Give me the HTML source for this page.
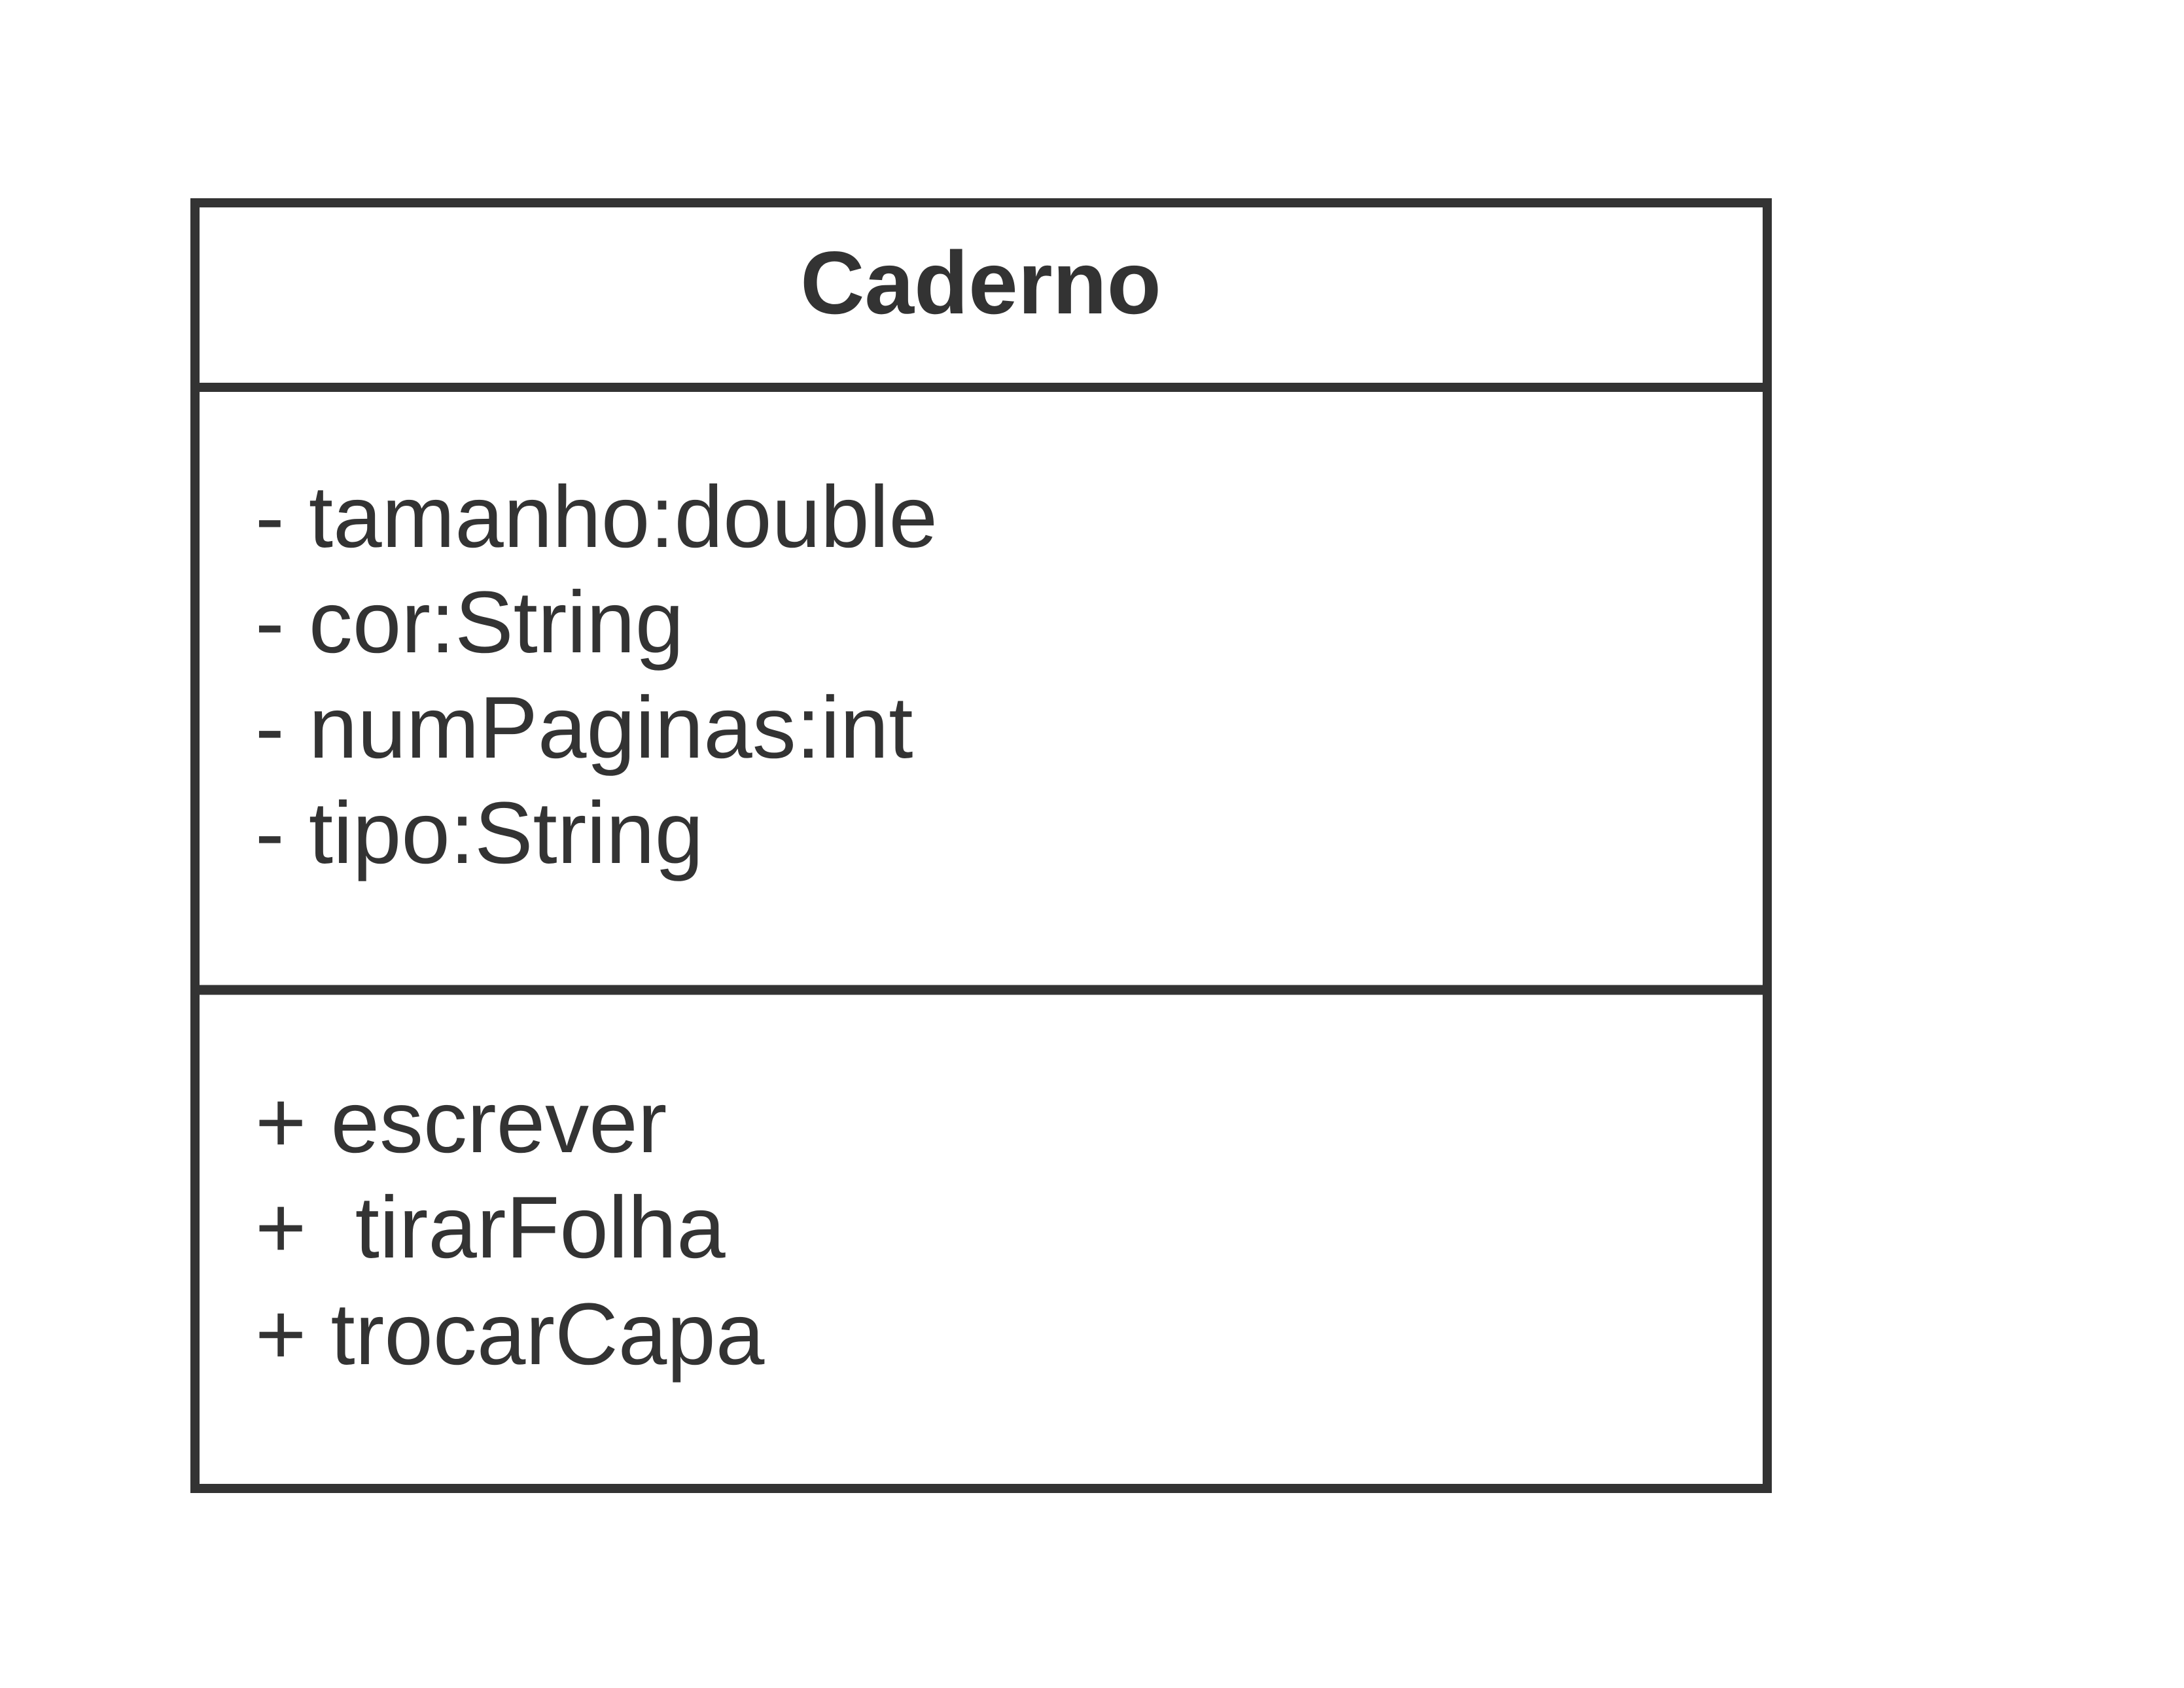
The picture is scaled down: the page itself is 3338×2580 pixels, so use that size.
<!DOCTYPE html>
<html><head><meta charset="utf-8"><style>html,body{margin:0;padding:0;background:#fff;}svg{display:block;}</style></head>
<body>
<svg width="3338" height="2580" viewBox="0 0 3338 2580" xmlns="http://www.w3.org/2000/svg">
<rect x="0" y="0" width="3338" height="2580" fill="#fff"/>
<rect x="298" y="310" width="2403" height="1965" fill="none" stroke="#333" stroke-width="14"/>
<line x1="298" y1="592" x2="2701" y2="592" stroke="#333" stroke-width="14"/>
<line x1="298" y1="1513" x2="2701" y2="1513" stroke="#333" stroke-width="15"/>
<g font-family="'Liberation Sans', sans-serif" fill="#333">
<text x="1499" y="479" font-size="136" font-weight="bold" text-anchor="middle">Caderno</text>
<g font-size="134">
<text x="390" y="836">- tamanho:double</text>
<text x="390" y="997">- cor:String</text>
<text x="390" y="1158">- numPaginas:int</text>
<text x="390" y="1319">- tipo:String</text>
<text x="390" y="1761">+ escrever</text>
<text x="390" y="1922" xml:space="preserve">+  tirarFolha</text>
<text x="390" y="2085">+ trocarCapa</text>
</g>
</g>
</svg>
</body></html>
